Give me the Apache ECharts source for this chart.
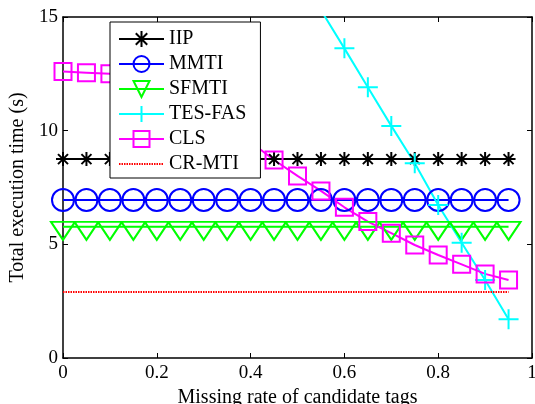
<!DOCTYPE html>
<html>
<head>
<meta charset="utf-8">
<script src="https://cdn.jsdelivr.net/npm/echarts@6/dist/echarts.min.js"></script>
<style>
  html, body { margin: 0; padding: 0; background: #fff; }
  #chart { width: 535px; height: 404px; }
</style>
</head>
<body>
<div id="chart"></div>
<script>
const missingRate = [0, 0.05, 0.1, 0.15, 0.2, 0.25, 0.3, 0.35, 0.4, 0.45,
                     0.5, 0.55, 0.6, 0.65, 0.7, 0.75, 0.8, 0.85, 0.9, 0.95];
const iip   = [8.75, 8.75, 8.75, 8.75, 8.75, 8.75, 8.75, 8.75, 8.75, 8.75,
               8.75, 8.75, 8.75, 8.75, 8.75, 8.75, 8.75, 8.75, 8.75, 8.75];
const mmti  = [6.95, 6.95, 6.95, 6.95, 6.95, 6.95, 6.95, 6.95, 6.95, 6.95,
               6.95, 6.95, 6.95, 6.95, 6.95, 6.95, 6.95, 6.95, 6.95, 6.95];
const sfmti = [5.77, 5.77, 5.77, 5.77, 5.77, 5.77, 5.77, 5.77, 5.77, 5.77,
               5.77, 5.77, 5.77, 5.77, 5.77, 5.77, 5.77, 5.77, 5.77, 5.77];
const tesFas = [null, null, null, null, null, null, null, null, null, null,
                17.0, 15.3, 13.62, 11.91, 10.21, 8.57, 6.73, 5.07, 3.43, 1.7];
const cls   = [12.6, 12.55, 12.5, 12.4, 12.2, 11.9, 11.3, 10.4, 9.5, 8.71,
               8.01, 7.35, 6.63, 6.0, 5.49, 4.97, 4.53, 4.12, 3.7, 3.43];
const crMti = [2.9, 2.9, 2.9, 2.9, 2.9, 2.9, 2.9, 2.9, 2.9, 2.9,
               2.9, 2.9, 2.9, 2.9, 2.9, 2.9, 2.9, 2.9, 2.9, 2.9];
const legendNames = ["IIP", "MMTI", "SFMTI", "TES-FAS", "CLS", "CR-MTI"];

const FONT = "Liberation Serif";
const pairs = vals => missingRate.map((x, i) => [x, vals[i]]);

const chart = echarts.init(document.getElementById("chart"), null, { renderer: "canvas" });

// marker series in MATLAB style: hollow symbols, 2px lines
const mk = (name, vals, color, symbol, size, extra) => Object.assign({
    name,
    type: "line",
    data: pairs(vals),
    symbol,
    symbolSize: size,
    showSymbol: true,
    showAllSymbol: true,
    clip: true,
    lineStyle: { color, width: 2 },
    itemStyle: { color: "rgba(0,0,0,0)", borderColor: color, borderWidth: 2 },
    emphasis: { disabled: true }
}, extra || {});

const axisCommon = {
    axisLine: { show: true, onZero: false, lineStyle: { color: "#000", width: 1.5 } },
    axisTick: { show: true, inside: true, length: 5, lineStyle: { color: "#000", width: 1 } },
    splitLine: { show: false }
};

const option = {
    animation: false,
    backgroundColor: "#fff",
    grid: { left: 63, right: 3, top: 17, bottom: 46, containLabel: false, outerBoundsMode: "none" },
    legend: {
        data: legendNames,
        orient: "vertical",
        left: 110,
        top: 22,
        padding: [7, 14, 4, 8],
        itemWidth: 45,
        itemHeight: 20,
        itemGap: 5,
        backgroundColor: "#fff",
        borderColor: "#000",
        borderWidth: 1,
        borderRadius: 0,
        selectedMode: false,
        textStyle: { fontFamily: FONT, fontSize: 20, color: "#000", lineHeight: 20 }
    },
    xAxis: [
        Object.assign({
            type: "value", min: 0, max: 1, interval: 0.2, position: "bottom",
            name: "Missing rate of candidate tags", nameLocation: "middle", nameGap: 28,
            nameTextStyle: { fontFamily: FONT, fontSize: 20, color: "#000" },
            axisLabel: { fontFamily: FONT, fontSize: 19, color: "#000", margin: 6 }
        }, axisCommon),
        Object.assign({
            type: "value", min: 0, max: 1, interval: 0.2, position: "top",
            axisLabel: { show: false }
        }, axisCommon)
    ],
    yAxis: [
        Object.assign({
            type: "value", min: 0, max: 15, interval: 5, position: "left",
            name: "Total execution time (s)", nameLocation: "middle", nameGap: 32,
            nameTextStyle: { fontFamily: FONT, fontSize: 20, color: "#000" },
            axisLabel: { fontFamily: FONT, fontSize: 19, color: "#000", margin: 5 }
        }, axisCommon),
        Object.assign({
            type: "value", min: 0, max: 15, interval: 5, position: "right",
            axisLabel: { show: false }
        }, axisCommon)
    ],
    series: [
        mk("IIP", iip, "#000000", "path://M7,0 L7,14 M0,7 L14,7 M2,2 L12,12 M2,12 L12,2", 14),
        mk("MMTI", mmti, "#0000ff", "circle", 22),
        mk("SFMTI", sfmti, "#00ff00", "path://M0,0 L24,0 L12,18 Z", [24, 18], { symbolOffset: [0, 4] }),
        mk("TES-FAS", tesFas, "#00ffff", "path://M10,0 L10,20 M0,10 L20,10", 20, { connectNulls: false }),
        mk("CLS", cls, "#ff00ff", "rect", 17),
        {
            name: "CR-MTI",
            type: "line",
            data: pairs(crMti),
            showSymbol: false,
            symbol: "none",
            lineStyle: { color: "#ff0000", width: 2, type: [1.5, 1] },
            itemStyle: { color: "rgba(0,0,0,0)", borderWidth: 0 },
            emphasis: { disabled: true }
        }
    ]
};

chart.setOption(option);
</script>
</body>
</html>
